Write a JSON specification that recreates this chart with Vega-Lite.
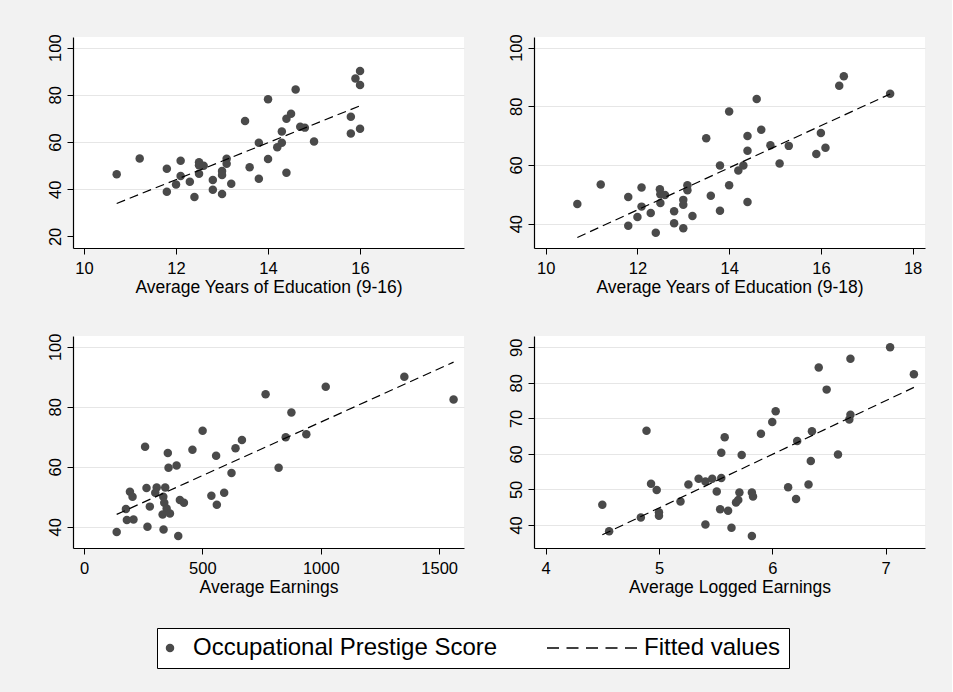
{
  "$schema": "https://vega.github.io/schema/vega-lite/v6.json",
  "background": "#f2f2f2",
  "padding": {"left": 47, "top": 33, "right": 27, "bottom": 24},
  "autosize": {"type": "pad"},
  "config": {
    "font": "Liberation Sans",
    "view": {"stroke": null, "fill": "white"},
    "axis": {
      "domainColor": "black",
      "domainWidth": 1.2,
      "tickColor": "black",
      "tickWidth": 1,
      "tickSize": 6,
      "labelFont": "Liberation Sans",
      "labelFontSize": 16.5,
      "labelColor": "black",
      "titleFont": "Liberation Sans",
      "titleFontSize": 17.5,
      "titleFontWeight": "normal",
      "titleColor": "black",
      "gridColor": "#e6e6e6",
      "gridWidth": 1,
      "labelFlush": false,
      "labelOverlap": false,
      "format": "d"
    },
    "axisX": {"grid": false, "labelPadding": 6, "titlePadding": 2, "labelBaseline": "top"},
    "axisY": {"grid": true, "labelAngle": -90, "labelAlign": "center", "labelBaseline": "alphabetic", "labelPadding": 7, "title": null},
    "legend": {
      "orient": "none", "legendX": 84, "legendY": 591,
      "direction": "horizontal", "title": null,
      "labelFontSize": 24, "labelFont": "Liberation Sans", "labelColor": "black", "labelLimit": 0,
      "strokeColor": "black", "fillColor": "white", "padding": 8,
      "columnPadding": 46, "labelOffset": 11, "symbolOffset": -7, "symbolStrokeWidth": 1.3, "symbolOpacity": 1
    }
  },
  "datasets": {
    "p1": [
      {"educ16": 10.71, "prestige": 46.3}, {"educ16": 11.21, "prestige": 53.0}, {"educ16": 11.8, "prestige": 48.7},
      {"educ16": 11.8, "prestige": 38.9}, {"educ16": 12.1, "prestige": 52.1}, {"educ16": 12.1, "prestige": 45.6},
      {"educ16": 12.0, "prestige": 42.0}, {"educ16": 12.3, "prestige": 43.2}, {"educ16": 12.4, "prestige": 36.7},
      {"educ16": 12.5, "prestige": 51.4}, {"educ16": 12.5, "prestige": 50.2}, {"educ16": 12.6, "prestige": 49.9},
      {"educ16": 12.5, "prestige": 46.6}, {"educ16": 12.8, "prestige": 43.9}, {"educ16": 12.8, "prestige": 39.8},
      {"educ16": 13.0, "prestige": 47.7}, {"educ16": 13.0, "prestige": 46.0}, {"educ16": 13.0, "prestige": 38.0},
      {"educ16": 13.1, "prestige": 52.9}, {"educ16": 13.1, "prestige": 50.8}, {"educ16": 13.2, "prestige": 42.3},
      {"educ16": 13.5, "prestige": 68.9}, {"educ16": 13.6, "prestige": 49.3}, {"educ16": 13.8, "prestige": 59.7},
      {"educ16": 13.8, "prestige": 44.4}, {"educ16": 14.0, "prestige": 78.1}, {"educ16": 14.0, "prestige": 52.8},
      {"educ16": 14.2, "prestige": 57.8}, {"educ16": 14.3, "prestige": 59.7}, {"educ16": 14.4, "prestige": 69.9},
      {"educ16": 14.5, "prestige": 72.0}, {"educ16": 14.3, "prestige": 64.5}, {"educ16": 14.4, "prestige": 47.0},
      {"educ16": 14.6, "prestige": 82.3}, {"educ16": 14.7, "prestige": 66.5}, {"educ16": 14.8, "prestige": 66.1},
      {"educ16": 15.0, "prestige": 60.2}, {"educ16": 15.8, "prestige": 70.7}, {"educ16": 15.8, "prestige": 63.6},
      {"educ16": 16.0, "prestige": 65.6}, {"educ16": 15.9, "prestige": 86.9}, {"educ16": 16.0, "prestige": 90.1},
      {"educ16": 16.0, "prestige": 84.2}
    ],
    "p2": [
      {"educ18": 10.69, "prestige": 46.7}, {"educ18": 11.2, "prestige": 53.3}, {"educ18": 11.8, "prestige": 49.1},
      {"educ18": 11.8, "prestige": 39.3}, {"educ18": 12.09, "prestige": 52.3}, {"educ18": 12.09, "prestige": 45.8},
      {"educ18": 12.0, "prestige": 42.3}, {"educ18": 12.29, "prestige": 43.6}, {"educ18": 12.4, "prestige": 36.9},
      {"educ18": 12.49, "prestige": 51.7}, {"educ18": 12.5, "prestige": 50.0}, {"educ18": 12.6, "prestige": 49.8},
      {"educ18": 12.5, "prestige": 47.0}, {"educ18": 12.8, "prestige": 44.2}, {"educ18": 12.8, "prestige": 40.1},
      {"educ18": 13.0, "prestige": 48.1}, {"educ18": 13.0, "prestige": 46.4}, {"educ18": 13.0, "prestige": 38.4},
      {"educ18": 13.09, "prestige": 53.1}, {"educ18": 13.09, "prestige": 51.4}, {"educ18": 13.2, "prestige": 42.6},
      {"educ18": 13.5, "prestige": 69.1}, {"educ18": 13.6, "prestige": 49.5}, {"educ18": 13.8, "prestige": 59.8},
      {"educ18": 13.8, "prestige": 44.4}, {"educ18": 14.0, "prestige": 78.2}, {"educ18": 14.0, "prestige": 53.1},
      {"educ18": 14.2, "prestige": 58.1}, {"educ18": 14.31, "prestige": 59.8}, {"educ18": 14.4, "prestige": 69.9},
      {"educ18": 14.4, "prestige": 64.8}, {"educ18": 14.4, "prestige": 47.4}, {"educ18": 14.6, "prestige": 82.5},
      {"educ18": 14.7, "prestige": 72.0}, {"educ18": 14.9, "prestige": 66.7}, {"educ18": 15.1, "prestige": 60.5},
      {"educ18": 15.3, "prestige": 66.5}, {"educ18": 15.9, "prestige": 63.7}, {"educ18": 16.0, "prestige": 70.9},
      {"educ18": 16.1, "prestige": 65.9}, {"educ18": 16.4, "prestige": 87.0}, {"educ18": 16.5, "prestige": 90.2},
      {"educ18": 17.51, "prestige": 84.3}
    ],
    "p3": [
      {"earnings": 138, "prestige": 38.2}, {"earnings": 177, "prestige": 45.9}, {"earnings": 194, "prestige": 51.7},
      {"earnings": 205, "prestige": 50.0}, {"earnings": 181, "prestige": 42.2}, {"earnings": 209, "prestige": 42.4},
      {"earnings": 258, "prestige": 66.7}, {"earnings": 264, "prestige": 52.9}, {"earnings": 268, "prestige": 40.0},
      {"earnings": 278, "prestige": 46.7}, {"earnings": 307, "prestige": 53.1}, {"earnings": 343, "prestige": 53.1},
      {"earnings": 301, "prestige": 51.3}, {"earnings": 335, "prestige": 50.0}, {"earnings": 339, "prestige": 48.0},
      {"earnings": 349, "prestige": 46.1}, {"earnings": 332, "prestige": 44.1}, {"earnings": 363, "prestige": 44.4},
      {"earnings": 354, "prestige": 64.6}, {"earnings": 357, "prestige": 59.7}, {"earnings": 391, "prestige": 60.4},
      {"earnings": 336, "prestige": 39.1}, {"earnings": 398, "prestige": 36.9}, {"earnings": 405, "prestige": 48.9},
      {"earnings": 422, "prestige": 48.0}, {"earnings": 458, "prestige": 65.7}, {"earnings": 501, "prestige": 72.0},
      {"earnings": 538, "prestige": 50.3}, {"earnings": 558, "prestige": 63.7}, {"earnings": 561, "prestige": 47.3},
      {"earnings": 592, "prestige": 51.3}, {"earnings": 623, "prestige": 57.9}, {"earnings": 640, "prestige": 66.2},
      {"earnings": 667, "prestige": 68.9}, {"earnings": 767, "prestige": 84.2}, {"earnings": 822, "prestige": 59.7},
      {"earnings": 852, "prestige": 69.8}, {"earnings": 876, "prestige": 78.1}, {"earnings": 939, "prestige": 70.8},
      {"earnings": 1021, "prestige": 86.7}, {"earnings": 1353, "prestige": 90.0}, {"earnings": 1561, "prestige": 82.4}
    ],
    "p4": [
      {"logearn": 4.50, "prestige": 45.7}, {"logearn": 4.56, "prestige": 38.2}, {"logearn": 4.84, "prestige": 42.1},
      {"logearn": 4.89, "prestige": 66.5}, {"logearn": 4.93, "prestige": 51.6}, {"logearn": 4.98, "prestige": 49.8},
      {"logearn": 5.0, "prestige": 43.6}, {"logearn": 5.0, "prestige": 42.6}, {"logearn": 5.19, "prestige": 46.6},
      {"logearn": 5.26, "prestige": 51.4}, {"logearn": 5.35, "prestige": 53.0}, {"logearn": 5.41, "prestige": 52.2},
      {"logearn": 5.47, "prestige": 53.0}, {"logearn": 5.41, "prestige": 40.1}, {"logearn": 5.51, "prestige": 49.4},
      {"logearn": 5.54, "prestige": 44.4}, {"logearn": 5.55, "prestige": 60.3}, {"logearn": 5.55, "prestige": 53.2},
      {"logearn": 5.58, "prestige": 64.7}, {"logearn": 5.61, "prestige": 44.0}, {"logearn": 5.64, "prestige": 39.2},
      {"logearn": 5.68, "prestige": 46.3}, {"logearn": 5.70, "prestige": 47.0}, {"logearn": 5.71, "prestige": 49.1},
      {"logearn": 5.73, "prestige": 59.7}, {"logearn": 5.82, "prestige": 36.9}, {"logearn": 5.82, "prestige": 49.1},
      {"logearn": 5.83, "prestige": 48.0}, {"logearn": 5.90, "prestige": 65.7}, {"logearn": 6.0, "prestige": 69.0},
      {"logearn": 6.03, "prestige": 72.0}, {"logearn": 6.14, "prestige": 50.6}, {"logearn": 6.21, "prestige": 47.3},
      {"logearn": 6.22, "prestige": 63.6}, {"logearn": 6.32, "prestige": 51.4}, {"logearn": 6.34, "prestige": 58.0},
      {"logearn": 6.35, "prestige": 66.4}, {"logearn": 6.41, "prestige": 84.3}, {"logearn": 6.48, "prestige": 78.1},
      {"logearn": 6.58, "prestige": 59.8}, {"logearn": 6.69, "prestige": 86.8}, {"logearn": 6.69, "prestige": 71.0},
      {"logearn": 6.68, "prestige": 69.7}, {"logearn": 7.04, "prestige": 90.0}, {"logearn": 7.25, "prestige": 82.4}
    ]
  },
  "columns": 2,
  "spacing": {"row": 88, "column": 70},
  "bounds": "flush",
  "resolve": {"scale": {"x": "independent", "y": "independent"}},
  "concat": [
    {
      "width": 391, "height": 211,
      "data": {"name": "p1"},
      "layer": [
        {
          "mark": {"type": "circle", "size": 72, "opacity": 1, "color": "#4a4a4a"},
          "encoding": {
            "x": {"field": "educ16", "type": "quantitative", "scale": {"domain": [9.76, 18.26], "nice": false, "zero": false}, "axis": {"values": [10, 12, 14, 16], "title": "Average Years of Education (9-16)"}},
            "y": {"field": "prestige", "type": "quantitative", "scale": {"domain": [15.1, 104.5], "nice": false, "zero": false}, "axis": {"values": [20, 40, 60, 80, 100], "gridOpacity": {"condition": {"test": "datum.value === 20", "value": 0}, "value": 1}}}
          }
        },
        {
          "transform": [{"regression": "prestige", "on": "educ16"}],
          "mark": {"type": "line", "color": "black", "strokeWidth": 1.2, "strokeDash": [9, 5]},
          "encoding": {
            "x": {"field": "educ16", "type": "quantitative"},
            "y": {"field": "prestige", "type": "quantitative"}
          }
        }
      ]
    },
    {
      "width": 391, "height": 211,
      "data": {"name": "p2"},
      "layer": [
        {
          "mark": {"type": "circle", "size": 72, "opacity": 1, "color": "#4a4a4a"},
          "encoding": {
            "x": {"field": "educ18", "type": "quantitative", "scale": {"domain": [9.745, 18.27], "nice": false, "zero": false}, "axis": {"values": [10, 12, 14, 16, 18], "title": "Average Years of Education (9-18)"}},
            "y": {"field": "prestige", "type": "quantitative", "scale": {"domain": [31.7, 103.6], "nice": false, "zero": false}, "axis": {"values": [40, 60, 80, 100]}}
          }
        },
        {
          "transform": [{"regression": "prestige", "on": "educ18"}],
          "mark": {"type": "line", "color": "black", "strokeWidth": 1.2, "strokeDash": [9, 5]},
          "encoding": {
            "x": {"field": "educ18", "type": "quantitative"},
            "y": {"field": "prestige", "type": "quantitative"}
          }
        }
      ]
    },
    {
      "width": 391, "height": 212,
      "data": {"name": "p3"},
      "layer": [
        {
          "mark": {"type": "point", "filled": true, "opacity": 1},
          "encoding": {
            "x": {"field": "earnings", "type": "quantitative", "scale": {"domain": [-46.5, 1605], "nice": false, "zero": false}, "axis": {"values": [0, 500, 1000, 1500], "title": "Average Earnings"}},
            "y": {"field": "prestige", "type": "quantitative", "scale": {"domain": [32.9, 103.6], "nice": false, "zero": false}, "axis": {"values": [40, 60, 80, 100]}},
            "fill": {
              "datum": "Occupational Prestige Score", "type": "nominal",
              "scale": {"domain": ["Occupational Prestige Score", "Fitted values"], "range": ["#4a4a4a", "transparent"]}
            },
            "stroke": {
              "datum": "Occupational Prestige Score", "type": "nominal",
              "scale": {"domain": ["Occupational Prestige Score", "Fitted values"], "range": ["transparent", "black"]}
            },
            "shape": {
              "datum": "Occupational Prestige Score", "type": "nominal",
              "scale": {"domain": ["Occupational Prestige Score", "Fitted values"], "range": ["circle", "M-14.8,0L3.2,0"]}
            },
            "strokeDash": {
              "datum": "Occupational Prestige Score", "type": "nominal",
              "scale": {"domain": ["Occupational Prestige Score", "Fitted values"], "range": [[1, 0], [12, 7.5]]}
            },
            "size": {
              "datum": "Occupational Prestige Score", "type": "nominal",
              "scale": {"type": "point", "padding": 0, "domain": ["Occupational Prestige Score", "Fitted values"], "range": [72, 100]}
            }
          }
        },
        {
          "transform": [{"regression": "prestige", "on": "earnings"}],
          "mark": {"type": "line", "color": "black", "strokeWidth": 1.2, "strokeDash": [9, 5]},
          "encoding": {
            "x": {"field": "earnings", "type": "quantitative"},
            "y": {"field": "prestige", "type": "quantitative"}
          }
        }
      ]
    },
    {
      "width": 391, "height": 212,
      "data": {"name": "p4"},
      "layer": [
        {
          "mark": {"type": "circle", "size": 72, "opacity": 1, "color": "#4a4a4a"},
          "encoding": {
            "x": {"field": "logearn", "type": "quantitative", "scale": {"domain": [3.897, 7.348], "nice": false, "zero": false}, "axis": {"values": [4, 5, 6, 7], "title": "Average Logged Earnings"}},
            "y": {"field": "prestige", "type": "quantitative", "scale": {"domain": [33.5, 93.2], "nice": false, "zero": false}, "axis": {"values": [40, 50, 60, 70, 80, 90]}}
          }
        },
        {
          "transform": [{"regression": "prestige", "on": "logearn"}],
          "mark": {"type": "line", "color": "black", "strokeWidth": 1.2, "strokeDash": [9, 5]},
          "encoding": {
            "x": {"field": "logearn", "type": "quantitative"},
            "y": {"field": "prestige", "type": "quantitative"}
          }
        }
      ]
    }
  ]
}
